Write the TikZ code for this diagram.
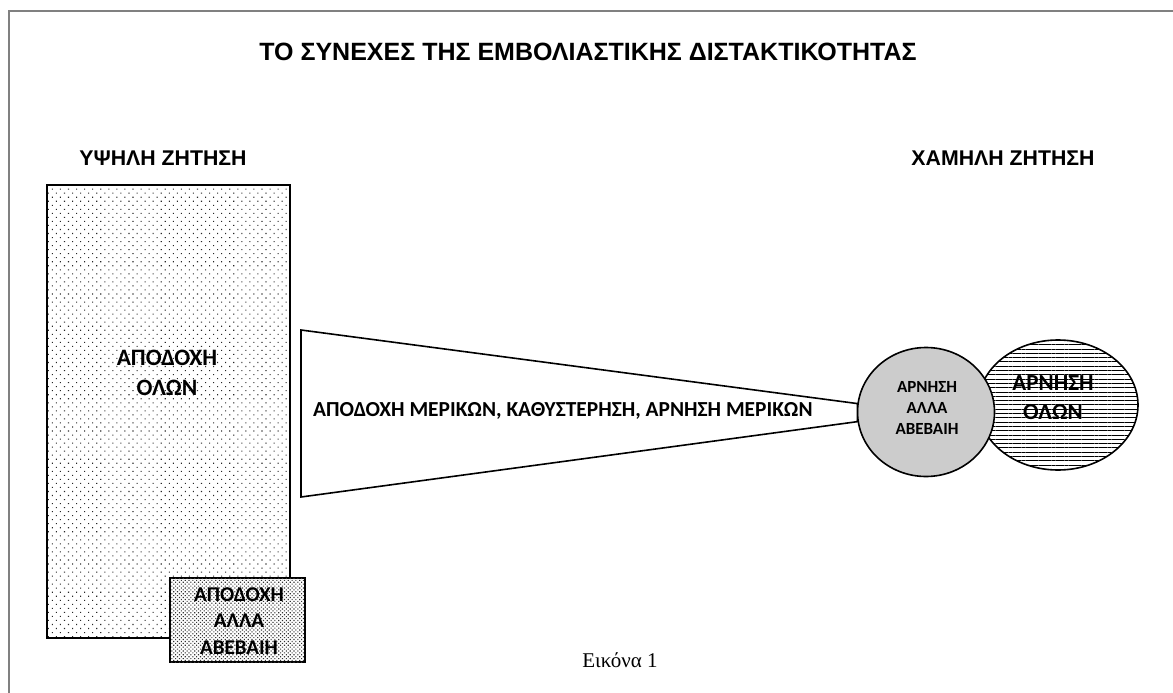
\documentclass[tikz,border=0pt]{standalone}
\usepackage{fontspec}
\setmainfont{Liberation Sans}
\newfontfamily\calib{Carlito}
\newfontfamily\timesf{Liberation Serif}
\usetikzlibrary{patterns.meta,shapes.geometric}
\tikzset{
  frameline/.style={draw=black!50, line width=2pt},
  head/.style={font=\bfseries\fontsize{21.3}{25}\selectfont, inner sep=0pt},
  boxtext/.style={font=\calib\bfseries\fontsize{21.4}{30}\selectfont, align=center, inner sep=0pt},
  bigrect/.style={draw, line width=2pt, pattern={Dots[distance=5.7pt, angle=45, radius=0.75pt]}, pattern color=black!85},
  smallrect/.style={draw, line width=2pt, fill=white, postaction={pattern={Dots[distance=2.7pt, angle=45, radius=0.8pt]}, pattern color=black!80}},
  funnel/.style={draw, line width=1.6pt, fill=white},
  graycirc/.style={draw, line width=1.6pt, fill=black!20},
  hatchell/.style={draw, line width=1.6pt, fill=white, postaction={pattern={Lines[distance=4.3pt, angle=0, line width=0.8pt]}}},
}
\begin{document}
\begin{tikzpicture}[x=1pt, y=-1pt]
\useasboundingbox (0,0) rectangle (1173,693);
% frame
\coordinate (ftr) at (1173,11);
\coordinate (ftl) at (9,11);
\coordinate (fbl) at (9,693);
\draw[frameline] (ftr) -- (ftl) -- (fbl);
% title and headers
\node[font=\bfseries\fontsize{25}{29}\selectfont, inner sep=0pt] (title) at (588,52) {ΤΟ ΣΥΝΕΧΕΣ ΤΗΣ ΕΜΒΟΛΙΑΣΤΙΚΗΣ ΔΙΣΤΑΚΤΙΚΟΤΗΤΑΣ};
\node[head] (high) at (163,158) {ΥΨΗΛΗ ΖΗΤΗΣΗ};
\node[head] (low) at (1003,158) {ΧΑΜΗΛΗ ΖΗΤΗΣΗ};
% big rectangle
\node[bigrect, minimum width=243pt, minimum height=453pt, inner sep=0pt] (accall) at (168.5,411.5) {};
\node[boxtext, font=\calib\bfseries\fontsize{23.5}{30}\selectfont] (alltxt) at (167,373) {ΑΠΟΔΟΧΗ\\ΟΛΩΝ};
% small rectangle
\node[smallrect, minimum width=135pt, minimum height=84pt, inner sep=0pt] (unsure) at (237.5,620) {};
\node[boxtext, font=\calib\bfseries\fontsize{21}{26.5}\selectfont] (unsuretxt) at (239,621) {ΑΠΟΔΟΧΗ\\ΑΛΛΑ\\ΑΒΕΒΑΙΗ};
% ellipse (behind circle)
\node[hatchell, ellipse, minimum width=160pt, minimum height=130pt, inner sep=0pt] (rejall) at (1058,405) {};
\node[boxtext, font=\calib\bfseries\fontsize{23}{29}\selectfont] (rejalltxt) at (1053,398) {ΑΡΝΗΣΗ\\ΟΛΩΝ};
% circle
\node[graycirc, ellipse, minimum width=137pt, minimum height=129pt, inner sep=0pt] (rejunsure) at (926,412) {};
\node[boxtext, font=\calib\bfseries\fontsize{17}{21}\selectfont] (rejunsuretxt) at (927,408) {ΑΡΝΗΣΗ\\ΑΛΛΑ\\ΑΒΕΒΑΙΗ};
% funnel
\coordinate (ftopl) at (301,330);
\coordinate (fbotl) at (301,497);
\coordinate (ftopr) at (rejunsure.173);
\coordinate (fbotr) at (rejunsure.188);
\draw[funnel] (ftopl) -- (ftopr) -- (fbotr) -- (fbotl) -- cycle;
\node[boxtext, anchor=west] (mid) at (313,411) {ΑΠΟΔΟΧΗ ΜΕΡΙΚΩΝ, ΚΑΘΥΣΤΕΡΗΣΗ, ΑΡΝΗΣΗ ΜΕΡΙΚΩΝ};
% caption
\node[font=\timesf\fontsize{21}{24}\selectfont, inner sep=0pt] (cap) at (620,660) {Εικόνα 1};
\end{tikzpicture}
\end{document}
